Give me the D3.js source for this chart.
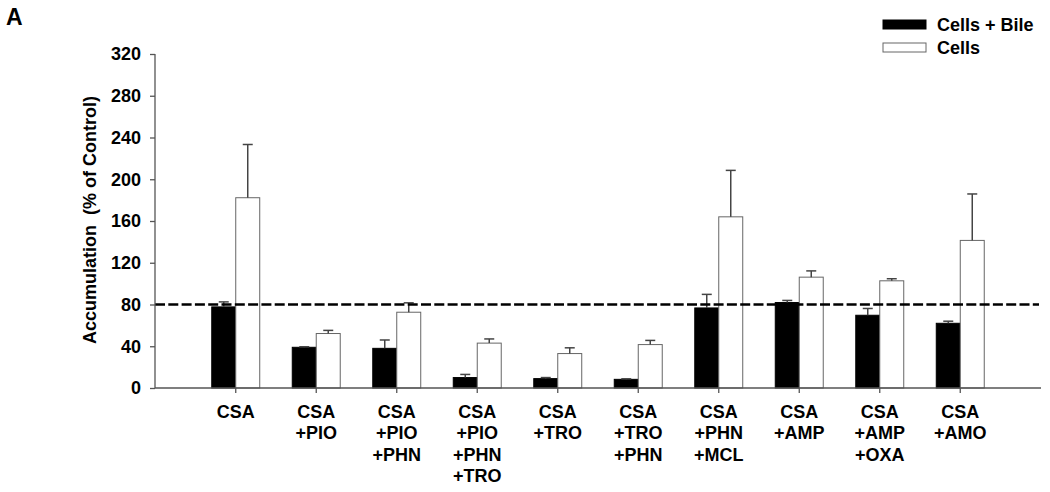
<!DOCTYPE html>
<html>
<head>
<meta charset="utf-8">
<script src="https://cdn.jsdelivr.net/npm/d3@7"></script>
<style>
    body { margin: 0; background: #fff; }
    svg text { font-family: "Liberation Sans", Arial, sans-serif; font-weight: bold; fill: #000; }
</style>
</head>
<body>
<script>
var categories = ["CSA", "CSA\n+PIO", "CSA\n+PIO\n+PHN", "CSA\n+PIO\n+PHN\n+TRO", "CSA\n+TRO",
    "CSA\n+TRO\n+PHN", "CSA\n+PHN\n+MCL", "CSA\n+AMP", "CSA\n+AMP\n+OXA", "CSA\n+AMO"];
var bileValues = [77.7, 39, 38, 10, 9, 8.3, 76.7, 81.9, 69.7, 62];
var bileErrors = [4.8, 0.5, 8, 3, 1, 0.5, 13, 2, 6.5, 2];
var cellsValues = [182.3, 52.2, 72.6, 43, 33, 41.6, 164, 106.2, 102.7, 141.4];
var cellsErrors = [51, 3, 9, 4, 5.5, 4, 44.5, 6, 2, 44.5];
var yTicks = [0, 40, 80, 120, 160, 200, 240, 280, 320];
var referenceLine = 80;
var seriesNames = ["Cells + Bile", "Cells"];

function init() {
    var w = 1050;
    var h = 492;
    var left = 155, right = 1041, top = 54, bottom = 388;

    var svg = d3.select("body").append("svg").attr("width", w).attr("height", h);

    var xScale = d3.scaleBand().domain(categories).range([left, right])
        .paddingInner(0.404).paddingOuter(0.705);
    var sub = d3.scaleBand().domain(seriesNames).range([0, xScale.bandwidth()]);
    var yScale = d3.scaleLinear().domain([0, 320]).range([bottom, top]);

    var data = categories.map(function (c, i) {
        return [
            { cat: c, s: seriesNames[0], v: bileValues[i], e: bileErrors[i] },
            { cat: c, s: seriesNames[1], v: cellsValues[i], e: cellsErrors[i] }
        ];
    });

    // bars
    var groups = svg.selectAll("g.grp").data(data).enter().append("g")
        .attr("class", "grp")
        .attr("transform", function (d) { return "translate(" + xScale(d[0].cat) + ",0)"; });

    groups.selectAll("rect").data(function (d) { return d; }).enter().append("rect")
        .attr("x", function (d) { return sub(d.s); })
        .attr("y", function (d) { return yScale(d.v); })
        .attr("width", sub.bandwidth())
        .attr("height", function (d) { return yScale(0) - yScale(d.v); })
        .attr("fill", function (d) { return d.s == seriesNames[0] ? "#000" : "#fff"; })
        .attr("stroke", function (d) { return d.s == seriesNames[0] ? "#000" : "#666"; })
        .attr("stroke-width", 1);

    // error bars (upper only)
    var err = groups.selectAll("g.err").data(function (d) { return d; }).enter().append("g")
        .attr("class", "err")
        .attr("stroke", "#444").attr("stroke-width", 1.5);
    err.append("line")
        .attr("x1", function (d) { return sub(d.s) + sub.bandwidth() / 2; })
        .attr("x2", function (d) { return sub(d.s) + sub.bandwidth() / 2; })
        .attr("y1", function (d) { return yScale(d.v); })
        .attr("y2", function (d) { return yScale(d.v + d.e); });
    err.append("line")
        .attr("x1", function (d) { return sub(d.s) + sub.bandwidth() / 2 - 5; })
        .attr("x2", function (d) { return sub(d.s) + sub.bandwidth() / 2 + 5; })
        .attr("y1", function (d) { return yScale(d.v + d.e); })
        .attr("y2", function (d) { return yScale(d.v + d.e); });

    // dashed reference line
    svg.append("line")
        .attr("x1", left).attr("x2", right - 2)
        .attr("y1", yScale(referenceLine)).attr("y2", yScale(referenceLine))
        .attr("stroke", "#000").attr("stroke-width", 2.6)
        .attr("stroke-dasharray", "10,3.3");

    // axes
    var yAxis = d3.axisLeft(yScale).tickValues(yTicks).tickSize(5).tickPadding(9);
    var gy = svg.append("g").attr("transform", "translate(" + left + ",0)").call(yAxis);
    gy.select(".domain").attr("d", "M0," + top + "V" + bottom);

    var xAxis = d3.axisBottom(xScale).tickSize(5).tickFormat("");
    var gx = svg.append("g").attr("transform", "translate(0," + bottom + ")").call(xAxis);
    gx.select(".domain").attr("d", "M" + left + ",0H" + right);

    svg.selectAll(".domain, .tick line").attr("stroke", "#555").attr("stroke-width", 1.3);
    gy.selectAll(".tick text").style("font-size", "18px").attr("fill", "#000");

    // category labels
    var labels = svg.append("g").selectAll("text").data(categories).enter().append("text")
        .attr("x", function (d) { return xScale(d) + xScale.bandwidth() / 2; })
        .attr("y", bottom + 30)
        .attr("text-anchor", "middle")
        .style("font-size", "18px");
    labels.selectAll("tspan").data(function (d) { return d.split("\n"); }).enter().append("tspan")
        .attr("x", function () { return this.parentNode.getAttribute("x"); })
        .attr("dy", function (d, i) { return i == 0 ? 0 : 21.3; })
        .text(function (d) { return d; });

    // y axis title
    svg.append("text")
        .attr("transform", "translate(96," + ((top + bottom) / 2 - 1) + ") rotate(-90)")
        .attr("text-anchor", "middle")
        .style("font-size", "18px")
        .style("white-space", "pre")
        .attr("xml:space", "preserve")
        .text("Accumulation  (% of Control)");

    // panel letter
    svg.append("text").attr("x", 6).attr("y", 25).style("font-size", "23px").text("A");

    // legend
    var legend = svg.append("g").selectAll("g").data(seriesNames).enter().append("g")
        .attr("transform", function (d, i) { return "translate(883," + (20 + i * 23) + ")"; });
    legend.append("rect")
        .attr("width", 43).attr("height", 9)
        .attr("fill", function (d, i) { return i == 0 ? "#000" : "#fff"; })
        .attr("stroke", function (d, i) { return i == 0 ? "#000" : "#666"; });
    legend.append("text")
        .attr("x", 54).attr("y", 11)
        .style("font-size", "18px")
        .text(function (d) { return d; });
}

window.onload = init;
</script>
</body>
</html>
